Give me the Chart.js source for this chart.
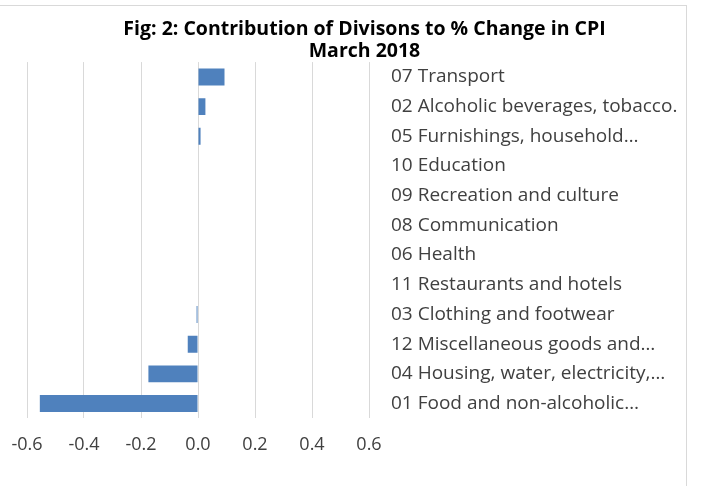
<!DOCTYPE html>
<html>
<head>
<meta charset="utf-8">
<script src="https://cdn.jsdelivr.net/npm/chart.js@4/dist/chart.umd.min.js"></script>
<style>
  html, body { margin: 0; padding: 0; background: #fff; }
  #wrap { position: relative; width: 702px; height: 486px; overflow: hidden; }
  #frame { position: absolute; left: -2px; top: 5px; width: 689px; height: 490px; border: 1px solid #d9d9d9; box-sizing: border-box; }
  canvas { position: absolute; left: 0; top: 0; }
</style>
</head>
<body>
<div id="wrap">
  <div id="frame"></div>
  <canvas id="c" width="702" height="486"></canvas>
</div>
<script>
const categories = [
  "07 Transport",
  "02 Alcoholic beverages, tobacco.",
  "05 Furnishings, household…",
  "10 Education",
  "09 Recreation and culture",
  "08 Communication",
  "06 Health",
  "11 Restaurants and hotels",
  "03 Clothing and footwear",
  "12 Miscellaneous goods and…",
  "04 Housing, water, electricity,…",
  "01 Food and non-alcoholic…"
];
const contributions = [0.093, 0.026, 0.009, 0, 0, 0, 0, 0, -0.005, -0.036, -0.174, -0.555];
const titleLines = ["Fig: 2: Contribution of Divisons to % Change in CPI", "March 2018"];
const xMin = -0.6, xMax = 0.6, xStep = 0.2;

const FONT = "'Open Sans', Lato, sans-serif";

new Chart(document.getElementById('c'), {
  type: 'bar',
  data: {
    labels: categories,
    datasets: [{
      data: contributions,
      backgroundColor: '#4f81bd',
      borderWidth: 0,
      categoryPercentage: 0.57,
      barPercentage: 1.0
    }]
  },
  options: {
    indexAxis: 'y',
    responsive: false,
    animation: false,
    layout: { padding: { left: 27, right: 0, top: 0, bottom: 14 } },
    plugins: {
      legend: { display: false },
      tooltip: { enabled: false },
      title: {
        display: true,
        text: titleLines,
        color: '#000',
        font: { family: FONT, size: 19.5, weight: 'bold', lineHeight: 1.13 },
        padding: { top: 18, bottom: 0 }
      }
    },
    scales: {
      x: {
        min: xMin, max: xMax,
        grid: { color: '#d9d9d9', lineWidth: 1, drawTicks: false },
        border: { display: false },
        ticks: {
          stepSize: xStep,
          padding: 16,
          color: '#404040',
          font: { family: FONT, size: 18 },
          callback: v => (Math.abs(v) < 1e-9 ? 0 : v).toFixed(1)
        },
        afterFit: s => { s.paddingLeft = 0; s.paddingRight = 0; }
      },
      y: {
        position: 'right',
        grid: { display: false, drawTicks: false },
        border: { display: false },
        ticks: {
          padding: 22,
          color: '#404040',
          font: { family: FONT, size: 19 },
          autoSkip: false
        },
        afterFit: s => { s.width = 702 - 369; }
      }
    }
  }
});
</script>
</body>
</html>
